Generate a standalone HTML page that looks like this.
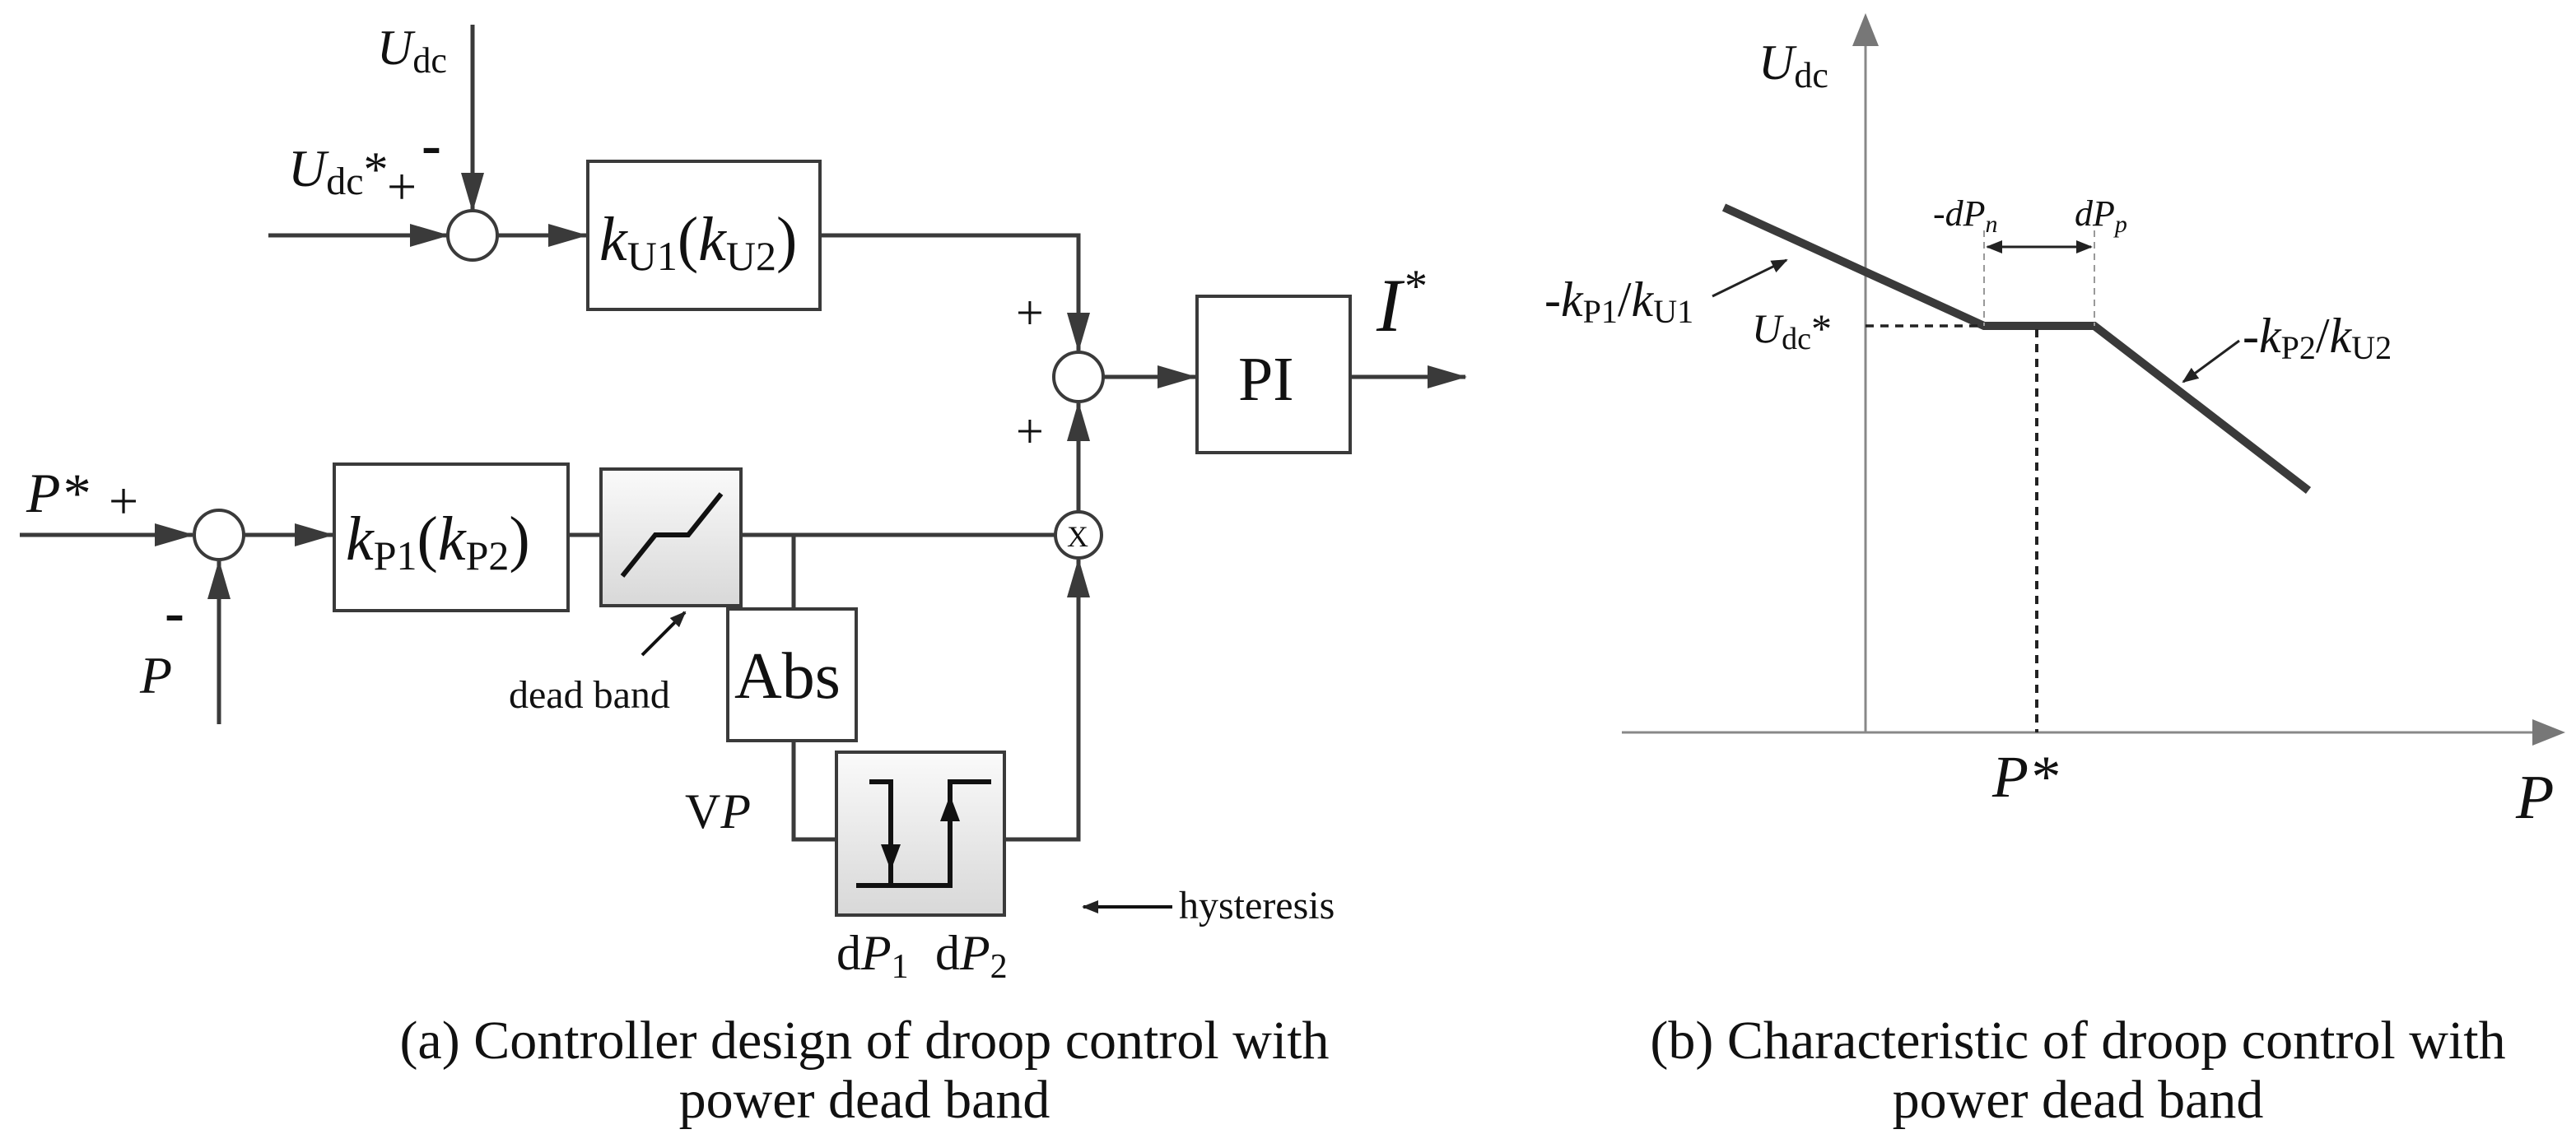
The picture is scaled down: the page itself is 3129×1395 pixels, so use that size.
<!DOCTYPE html>
<html><head><meta charset="utf-8"><style>html,body{margin:0;padding:0;background:#fff}svg{display:block}</style></head>
<body>
<svg width="3129" height="1395" viewBox="0 0 1564.5 697.5" xmlns="http://www.w3.org/2000/svg" font-family="Liberation Serif, serif">
<defs>
<marker id="b" markerWidth="24" markerHeight="14" refX="23" refY="7" orient="auto" markerUnits="userSpaceOnUse" viewBox="0 0 24 14"><path d="M0,0 L24,7 L0,14z" fill="#3a3a3a"/></marker>
<marker id="s" markerWidth="10" markerHeight="8" refX="9" refY="4" orient="auto" markerUnits="userSpaceOnUse" viewBox="0 0 10 8"><path d="M0,0 L10,4 L0,8z" fill="#222"/></marker>
<marker id="h" markerWidth="16" markerHeight="12" refX="15" refY="6" orient="auto" markerUnits="userSpaceOnUse" viewBox="0 0 16 12"><path d="M0,0 L16,6 L0,12z" fill="#111"/></marker>
<marker id="s2" markerWidth="10" markerHeight="8" refX="1" refY="4" orient="auto" markerUnits="userSpaceOnUse" viewBox="0 0 10 8"><path d="M10,0 L0,4 L10,8z" fill="#222"/></marker>
<linearGradient id="g" x1="0" y1="0" x2="0" y2="1"><stop offset="0" stop-color="#fafafa"/><stop offset="1" stop-color="#d8d8d8"/></linearGradient>
</defs>
<g stroke="#3a3a3a" stroke-width="2.5" fill="none">
<line x1="287" y1="15" x2="287" y2="128" marker-end="url(#b)"/>
<line x1="163" y1="143" x2="272" y2="143" marker-end="url(#b)"/>
<circle cx="287" cy="143" r="15" fill="#fff" stroke-width="2"/>
<line x1="302" y1="143" x2="356" y2="143" marker-end="url(#b)"/>
<rect x="357" y="98" width="141" height="90" fill="#fff" stroke-width="2"/>
<polyline points="498,143 655,143 655,213" marker-end="url(#b)"/>
<circle cx="655" cy="229" r="15" fill="#fff" stroke-width="2"/>
<line x1="670" y1="229" x2="726" y2="229" marker-end="url(#b)"/>
<rect x="727" y="180" width="93" height="95" fill="#fff" stroke-width="2"/>
<line x1="820" y1="229" x2="890" y2="229" marker-end="url(#b)"/>
<line x1="12" y1="325" x2="117" y2="325" marker-end="url(#b)"/>
<line x1="133" y1="440" x2="133" y2="341" marker-end="url(#b)"/>
<circle cx="133" cy="325" r="15" fill="#fff" stroke-width="2"/>
<line x1="148" y1="325" x2="202" y2="325" marker-end="url(#b)"/>
<rect x="203" y="282" width="142" height="89" fill="#fff" stroke-width="2"/>
<line x1="345" y1="325" x2="365" y2="325"/>
<rect x="365" y="285" width="85" height="83" fill="url(#g)" stroke-width="2"/>
<polyline points="378,350 398,325 418,325 438,300" stroke="#111" stroke-width="3"/>
<line x1="450" y1="325" x2="641" y2="325"/>
<circle cx="655" cy="325" r="14" fill="#fff" stroke-width="2"/>
<line x1="655" y1="311" x2="655" y2="245" marker-end="url(#b)"/>
<line x1="482" y1="325" x2="482" y2="370"/>
<rect x="442" y="370" width="78" height="80" fill="#fff" stroke-width="2"/>
<polyline points="482,450 482,510 508,510"/>
<rect x="508" y="457" width="102" height="99" fill="url(#g)" stroke-width="2"/>
<polyline points="610,510 655,510 655,340" marker-end="url(#b)"/>
<g stroke="#111" stroke-width="3">
<polyline points="520,538 577,538 577,475 602,475"/>
<polyline points="528,475 541,475 541,538"/>
<line x1="541" y1="495" x2="541" y2="528" marker-end="url(#h)" stroke-width="2.5"/>
<line x1="577" y1="520" x2="577" y2="484" marker-end="url(#h)" stroke-width="2.5"/>
</g>
<line x1="390" y1="398" x2="416" y2="372" stroke="#111" stroke-width="2" marker-end="url(#s)"/>
<line x1="712" y1="551" x2="658" y2="551" stroke="#111" stroke-width="2" marker-end="url(#s)"/>
</g>
<g fill="#111">
<text x="229" y="39" font-size="30" font-style="italic">U<tspan font-size="22" font-style="normal" dy="5">dc</tspan></text>
<text x="175" y="113" font-size="32" font-style="italic">U<tspan font-size="24" font-style="normal" dy="5">dc</tspan><tspan dy="-5" font-style="normal" font-size="30">*</tspan></text>
<text x="235" y="124" font-size="32">+</text>
<text x="256" y="100" font-size="36" font-weight="bold">-</text>
<text x="364" y="158" font-size="38"><tspan font-style="italic">k</tspan><tspan font-size="25" dy="6">U1</tspan><tspan dy="-6">(</tspan><tspan font-style="italic">k</tspan><tspan font-size="25" dy="6">U2</tspan><tspan dy="-6">)</tspan></text>
<text x="617" y="200" font-size="30">+</text>
<text x="617" y="272" font-size="30">+</text>
<text x="752" y="243" font-size="38">PI</text>
<text x="836" y="201" font-size="46" font-style="italic">I</text><text x="853" y="183" font-size="28">*</text>
<text x="16" y="311" font-size="34" font-style="italic">P*</text><text x="66" y="315" font-size="32">+</text>
<text x="100" y="384" font-size="36" font-weight="bold">-</text>
<text x="85" y="421" font-size="32" font-style="italic">P</text>
<text x="210" y="340" font-size="38"><tspan font-style="italic">k</tspan><tspan font-size="25" dy="6">P1</tspan><tspan dy="-6">(</tspan><tspan font-style="italic">k</tspan><tspan font-size="25" dy="6">P2</tspan><tspan dy="-6">)</tspan></text>
<text x="648" y="332" font-size="18">X</text>
<text x="446" y="424" font-size="40">Abs</text>
<text x="309" y="430" font-size="24">dead band</text>
<text x="416" y="503" font-size="30">V<tspan font-style="italic">P</tspan></text>
<text x="508" y="589" font-size="30">d<tspan font-style="italic">P</tspan><tspan font-size="21" dy="5">1</tspan></text>
<text x="568" y="589" font-size="30">d<tspan font-style="italic">P</tspan><tspan font-size="21" dy="5">2</tspan></text>
<text x="716" y="558" font-size="24">hysteresis</text>
<text x="525" y="643" font-size="33" text-anchor="middle">(a) Controller design of droop control with</text>
<text x="525" y="679" font-size="33" text-anchor="middle">power dead band</text>
<text x="1262" y="643" font-size="33" text-anchor="middle">(b) Characteristic of droop control with</text>
<text x="1262" y="679" font-size="33" text-anchor="middle">power dead band</text>
</g>
<g stroke="#888" stroke-width="1.5" fill="none">
<line x1="1133" y1="445" x2="1133" y2="20"/>
<line x1="985" y1="445" x2="1545" y2="445"/>
</g>
<path d="M1133,8 L1125,28 L1141,28z" fill="#777"/>
<path d="M1558,445 L1538,437 L1538,453z" fill="#777"/>
<g fill="none">
<polyline points="1047,126 1205,198 1272,198 1402,298" stroke="#3a3a3a" stroke-width="5"/>
<line x1="1133" y1="198" x2="1205" y2="198" stroke="#222" stroke-width="1.8" stroke-dasharray="5,4"/>
<line x1="1237" y1="200" x2="1237" y2="445" stroke="#222" stroke-width="2" stroke-dasharray="5,4"/>
<line x1="1205" y1="140" x2="1205" y2="198" stroke="#999" stroke-width="1" stroke-dasharray="4,3"/>
<line x1="1272" y1="140" x2="1272" y2="198" stroke="#999" stroke-width="1" stroke-dasharray="4,3"/>
<line x1="1207" y1="150" x2="1270" y2="150" stroke="#222" stroke-width="1.5" marker-start="url(#s2)" marker-end="url(#s)"/>
<line x1="1040" y1="180" x2="1085" y2="158" stroke="#222" stroke-width="1.5" marker-end="url(#s)"/>
<line x1="1360" y1="207" x2="1326" y2="232" stroke="#222" stroke-width="1.5" marker-end="url(#s)"/>
</g>
<g fill="#111">
<text x="1068" y="48" font-size="30" font-style="italic">U<tspan font-size="22" font-style="normal" dy="5">dc</tspan></text>
<text x="1528" y="497" font-size="38" font-style="italic">P</text>
<text x="1210" y="484" font-size="36" font-style="italic">P*</text>
<text x="1064" y="208" font-size="25" font-style="italic">U<tspan font-size="19" font-style="normal" dy="4">dc</tspan><tspan dy="-4" font-style="normal">*</tspan></text>
<text x="1174" y="137" font-size="22" font-style="italic">-dP<tspan font-size="15" dy="4">n</tspan></text>
<text x="1260" y="137" font-size="22" font-style="italic">dP<tspan font-size="15" dy="4">p</tspan></text>
<text x="938" y="192" font-size="30">-<tspan font-style="italic">k</tspan><tspan font-size="20" dy="4">P1</tspan><tspan dy="-4">/</tspan><tspan font-style="italic">k</tspan><tspan font-size="20" dy="4">U1</tspan></text>
<text x="1362" y="214" font-size="30">-<tspan font-style="italic">k</tspan><tspan font-size="20" dy="4">P2</tspan><tspan dy="-4">/</tspan><tspan font-style="italic">k</tspan><tspan font-size="20" dy="4">U2</tspan></text>
</g>
</svg>
</body></html>
